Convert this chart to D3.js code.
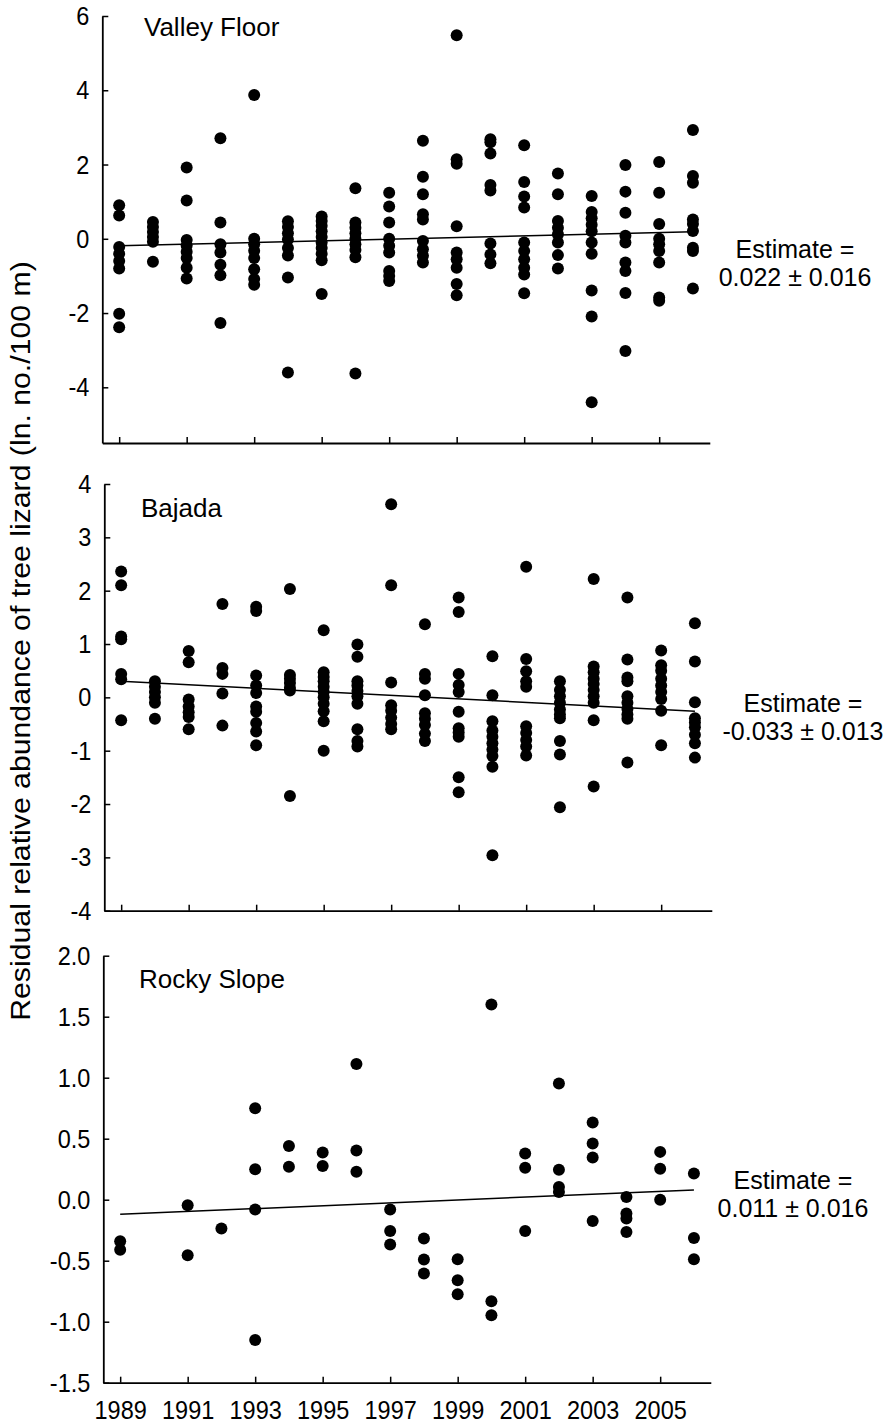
<!DOCTYPE html>
<html><head><meta charset="utf-8">
<script src="https://cdn.jsdelivr.net/npm/d3@7"></script>
<style>
body{margin:0;background:#fff}
svg{display:block}
text{font-family:"Liberation Sans",Arial,sans-serif;fill:#000}
</style>
</head><body>
<svg id="c" width="888" height="1424"></svg>
<script>
// ---------- data ----------
const years = [1989,1990,1991,1992,1993,1994,1995,1996,1997,1998,1999,2000,2001,2002,2003,2004,2005,2006];
const xTickYears = [1989,1991,1993,1995,1997,1999,2001,2003,2005];
const panelNames = ["Valley Floor","Bajada","Rocky Slope"];
const estimateTexts = ["0.022 \u00B1 0.016","-0.033 \u00B1 0.013","0.011 \u00B1 0.016"];
const yTicksValley = [-4,-2,0,2,4,6];
const yTicksBajada = [-4,-3,-2,-1,0,1,2,3,4];
const yTicksRocky = [-1.5,-1.0,-0.5,0.0,0.5,1.0,1.5,2.0];
const fitStart = [-0.19, 0.30, -0.12];   // fitted value at first year
const fitEnd = [0.19, -0.26, 0.08];      // fitted value at last year

const valleyFloor = [
  [0.9,0.63,-0.22,-0.4,-0.6,-0.8,-2.02,-2.38],
  [0.45,0.32,0.18,0.05,-0.08,-0.62],
  [1.92,1.03,-0.03,-0.18,-0.35,-0.52,-0.78,-1.07],
  [2.71,0.44,-0.15,-0.37,-0.7,-0.98,-2.27],
  [3.87,0.0,-0.15,-0.32,-0.52,-0.82,-1.08,-1.24],
  [0.47,0.32,0.15,-0.02,-0.25,-0.45,-1.04,-3.6],
  [0.6,0.48,0.35,0.2,0.05,-0.1,-0.25,-0.4,-0.58,-1.49],
  [1.36,0.44,0.3,0.15,0.0,-0.15,-0.3,-0.5,-3.63],
  [1.24,0.87,0.44,0.0,-0.19,-0.37,-0.87,-1.0,-1.14],
  [2.64,1.67,1.2,0.66,0.52,-0.06,-0.28,-0.46,-0.64],
  [5.48,2.14,2.02,0.34,-0.37,-0.55,-0.78,-1.22,-1.52],
  [2.68,2.6,2.3,1.45,1.3,-0.13,-0.42,-0.66],
  [2.52,1.53,1.14,0.84,-0.1,-0.33,-0.55,-0.78,-0.96,-1.47],
  [1.76,1.2,0.48,0.3,0.12,-0.1,-0.44,-0.8],
  [1.15,0.72,0.55,0.38,0.2,-0.1,-0.4,-1.39,-2.09,-4.4],
  [1.99,1.27,0.7,0.08,-0.1,-0.64,-0.87,-1.46,-3.02],
  [2.07,1.24,0.4,0.0,-0.15,-0.33,-0.64,-1.58,-1.67],
  [2.93,1.69,1.51,0.52,0.4,0.21,-0.24,-0.33,-1.34]
];
const bajada = [
  [2.36,2.1,1.14,1.09,0.44,0.34,-0.43],
  [0.3,0.2,0.1,0.0,-0.1,-0.4],
  [0.87,0.66,-0.04,-0.17,-0.28,-0.37,-0.6],
  [1.75,0.55,0.44,0.07,-0.53],
  [1.7,1.62,0.41,0.22,0.08,-0.17,-0.27,-0.48,-0.64,-0.9],
  [2.03,0.42,0.35,0.27,0.18,0.13,-1.85],
  [1.26,0.47,0.38,0.3,0.2,0.1,0.0,-0.12,-0.26,-0.45,-1.0],
  [0.99,0.76,0.3,0.22,0.12,0.02,-0.12,-0.6,-0.82,-0.92],
  [3.62,2.1,0.28,-0.15,-0.25,-0.38,-0.5,-0.6],
  [1.37,0.44,0.35,0.04,-0.3,-0.4,-0.52,-0.68,-0.82],
  [1.87,1.6,0.44,0.23,0.1,-0.27,-0.58,-0.66,-0.74,-1.5,-1.78],
  [0.77,0.04,-0.45,-0.62,-0.74,-0.86,-0.98,-1.1,-1.3,-2.96],
  [2.45,0.72,0.49,0.3,0.2,-0.54,-0.67,-0.8,-0.92,-1.09],
  [0.3,0.14,0.02,-0.1,-0.23,-0.32,-0.39,-0.82,-1.07,-2.06],
  [2.22,0.58,0.47,0.35,0.25,0.14,0.02,-0.1,-0.43,-1.67],
  [1.87,0.71,0.37,0.3,0.02,-0.1,-0.22,-0.32,-0.4,-1.22],
  [0.88,0.6,0.5,0.35,0.22,0.1,-0.03,-0.25,-0.9],
  [1.39,0.67,-0.09,-0.39,-0.47,-0.56,-0.7,-0.86,-1.13]
];
const rockySlope = [
  [-0.34,-0.41],
  [],
  [-0.045,-0.455],
  [-0.236],
  [0.75,0.25,-0.08,-1.15],
  [0.44,0.27],
  [0.387,0.277],
  [1.113,0.403,0.23],
  [-0.08,-0.256,-0.367],
  [-0.318,-0.49,-0.605],
  [-0.488,-0.66,-0.775],
  [1.6,-0.832,-0.947],
  [0.379,0.262,-0.256],
  [0.952,0.245,0.105,0.064],
  [0.633,0.46,0.346,-0.174],
  [0.023,-0.113,-0.154,-0.264],
  [0.392,0.253,0.0],
  [0.215,-0.313,-0.488]
];

// ---------- layout ----------
const seriesList = [valleyFloor, bajada, rockySlope];
const tickList = [yTicksValley, yTicksBajada, yTicksRocky];
const layout = [
  {left:102.3, top:16,    bottom:443,    domain:[-5.5,6], fmt:d=>String(d), titleX:144, titleY:36,  estX:795, estY:258},
  {left:104.3, top:484,   bottom:910.7,  domain:[-4,4],   fmt:d=>String(d), titleX:141, titleY:517, estX:803, estY:712},
  {left:103.3, top:955.7, bottom:1382.7, domain:[-1.5,2], fmt:d=>d.toFixed(1), titleX:139, titleY:988, estX:793, estY:1189}
];
const plotW = 607.5;
const svg = d3.select("#c");
const tickFont = 23.5, tickStretch = 1.13, titleFont = 26, estFont = 25;

layout.forEach((L, i) => {
  const x = d3.scaleLinear().domain([1988.5, 2006.5]).range([L.left, L.left + plotW]);
  const y = d3.scaleLinear().domain(L.domain).range([L.bottom, L.top]);
  const g = svg.append("g");

  // y axis
  const ya = g.append("g").attr("transform", `translate(${L.left},0)`)
    .call(d3.axisLeft(y).tickValues(tickList[i]).tickFormat(L.fmt).tickSizeInner(-6).tickSizeOuter(0).tickPadding(13));
  ya.selectAll(".tick text").attr("transform", `scale(1,${tickStretch})`);
  // x axis
  const xa = g.append("g").attr("transform", `translate(0,${L.bottom})`)
    .call(d3.axisBottom(x).tickValues(xTickYears).tickFormat(i === 2 ? d3.format("d") : () => "")
      .tickSizeInner(-6).tickSizeOuter(0));
  xa.selectAll(".tick text").attr("y", 0).attr("dy", 0)
    .attr("transform", `translate(0,36) scale(1,${tickStretch})`);
  [ya, xa].forEach(a => {
    a.select(".domain").attr("stroke", "#000").attr("stroke-width", 1.8);
    a.selectAll(".tick line").attr("stroke", "#000").attr("stroke-width", 1.5);
    a.selectAll(".tick text").attr("font-family", "Liberation Sans, Arial, sans-serif").attr("font-size", tickFont).attr("fill", "#000");
  });

  // points
  const pts = [];
  seriesList[i].forEach((vals, k) => vals.forEach(v => pts.push({yr: years[k], v})));
  g.append("g").selectAll("circle").data(pts).join("circle")
    .attr("cx", d => x(d.yr)).attr("cy", d => y(d.v)).attr("r", 6).attr("fill", "#000");

  // regression line
  g.append("line")
    .attr("x1", x(years[0])).attr("y1", y(fitStart[i]))
    .attr("x2", x(years[years.length - 1])).attr("y2", y(fitEnd[i]))
    .attr("stroke", "#000").attr("stroke-width", 1.5);

  // panel title
  g.append("text").attr("x", L.titleX).attr("y", L.titleY).attr("font-size", titleFont).text(panelNames[i]);

  // estimate
  const et = g.append("text").attr("text-anchor", "middle").attr("font-size", estFont);
  et.append("tspan").attr("x", L.estX).attr("y", L.estY).text("Estimate =");
  et.append("tspan").attr("x", L.estX).attr("y", L.estY + 28).text(estimateTexts[i]);
});

// y-axis title
svg.append("text")
  .attr("transform", "translate(21,641) scale(1,1.12) rotate(-90)")
  .attr("text-anchor", "middle").attr("dominant-baseline", "central")
  .attr("font-size", 27)
  .text("Residual relative abundance of tree lizard (ln. no./100 m)");
</script>
</body></html>
